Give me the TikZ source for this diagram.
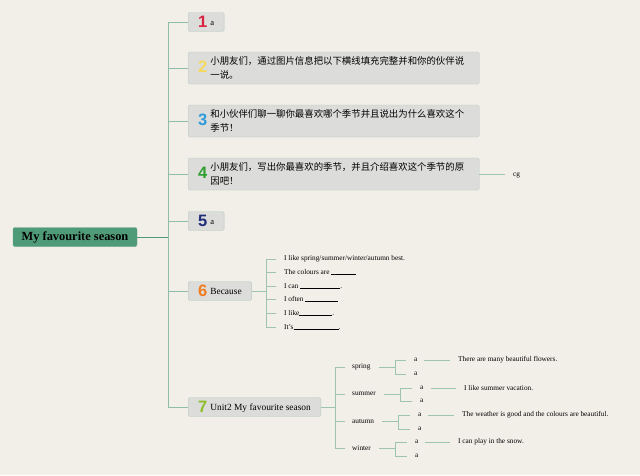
\documentclass[tikz,border=0pt]{standalone}
\usepackage{fontspec}
\setmainfont{Liberation Serif}
\newfontfamily\cjkfont{Noto Sans CJK SC}
\newfontfamily\numfont{Liberation Sans}
\definecolor{paper}{HTML}{F2EFE8}
\definecolor{rootgreen}{HTML}{4F9A77}
\definecolor{boxfill}{HTML}{DCDCDA}
\definecolor{boxline}{HTML}{B5CCBE}
\definecolor{branchgreen}{HTML}{8FBFA3}
\definecolor{twiggreen}{HTML}{9DC4AE}
\definecolor{numred}{HTML}{D9233F}
\definecolor{numyellow}{HTML}{F4DA5A}
\definecolor{numblue}{HTML}{2B9BD9}
\definecolor{numgreen}{HTML}{2E9E2E}
\definecolor{numnavy}{HTML}{1F2E7A}
\definecolor{numorange}{HTML}{F07C1E}
\definecolor{numlime}{HTML}{8DBE2A}

\newcommand{\topicnum}[2]{\raisebox{-2.5pt}{\numfont\bfseries\fontsize{16.5}{16}\selectfont\color{#1}#2}\hspace{3pt}}
\newcommand{\blank}[1]{\rule[-0.4pt]{#1}{0.4pt}}

\tikzset{
  root/.style={fill=rootgreen, draw=rootgreen!85!white, rounded corners=2pt,
    minimum width=124pt, minimum height=19pt, inner sep=2pt,
    font=\bfseries\fontsize{12.4}{14}\selectfont},
  topic/.style={draw=boxline, fill=boxfill, rounded corners=1.5pt, anchor=west,
    inner xsep=10pt, inner ysep=2pt, minimum height=19pt, font=\fontsize{9.4}{11}\selectfont},
  widetopic/.style={topic, text width=271pt, minimum height=32pt,
    font=\cjkfont\fontsize{9.4}{14}\selectfont},
  leaf/.style={anchor=west, inner sep=1pt, font=\fontsize{7.3}{9}\selectfont},
  rootlink/.style={draw=rootgreen, line width=1pt},
  branch/.style={draw=branchgreen, line width=0.9pt},
  twig/.style={draw=twiggreen, line width=0.7pt},
}

\begin{document}
\begin{tikzpicture}[x=1pt,y=-1pt]
  \useasboundingbox[fill=paper] (0,0) rectangle (640,475);

  % main topic
  \node[root] (root) at (75,237) {My favourite season};

  % numbered topics
  \node[topic] (t1) at (188,22) {\topicnum{numred}{1}{\fontsize{8.5}{9}\selectfont a}};
  \node[widetopic] (t2) at (188,68) {\topicnum{numyellow}{2}\parbox[c]{258pt}{小朋友们，通过图片信息把以下横线填充完整并和你的伙伴说\\一说。}};
  \node[widetopic] (t3) at (188,121) {\topicnum{numblue}{3}\parbox[c]{258pt}{和小伙伴们聊一聊你最喜欢哪个季节并且说出为什么喜欢这个\\季节！}};
  \node[widetopic] (t4) at (188,174) {\topicnum{numgreen}{4}\parbox[c]{258pt}{小朋友们，写出你最喜欢的季节，并且介绍喜欢这个季节的原\\因吧！}};
  \node[topic] (t5) at (188,221) {\topicnum{numnavy}{5}{\fontsize{8.5}{9}\selectfont a}};
  \node[topic] (t6) at (188,291) {\topicnum{numorange}{6}Because};
  \node[topic] (t7) at (188,407) {\topicnum{numlime}{7}Unit2 My favourite season};

  \coordinate (trunk) at (168,237);
  \draw[rootlink] (root.east) -- (trunk);
  \draw[branch] (trunk) |- (t1.west);
  \draw[branch] (trunk) |- (t2.west);
  \draw[branch] (trunk) |- (t3.west);
  \draw[branch] (trunk) |- (t4.west);
  \draw[branch] (trunk) |- (t5.west);
  \draw[branch] (trunk) |- (t6.west);
  \draw[branch] (trunk) |- (t7.west);

  % topic 4
  \node[leaf] (cg) at (512,175) {cg};
  \draw[twig, shorten >=7pt] (t4.east) -- (t4.east -| cg.west);

  % topic 6
  \coordinate (fork6) at (266,291);
  \node[leaf] (c1) at (283,259) {I like spring/summer/winter/autumn best.};
  \node[leaf] (c2) at (283,272) {The colours are \blank{25pt}};
  \node[leaf] (c3) at (283,286) {I can \blank{40pt}.};
  \node[leaf] (c4) at (283,299) {I often \blank{33pt}};
  \node[leaf] (c5) at (283,313) {I like\blank{33pt}.};
  \node[leaf] (c6) at (283,327) {It's\blank{45pt}.};
  \draw[twig] (t6.east) -- (fork6);
  \draw[twig, shorten >=7pt] (fork6) |- (c1.west);
  \draw[twig, shorten >=7pt] (fork6) |- (c2.west);
  \draw[twig, shorten >=7pt] (fork6) |- (c3.west);
  \draw[twig, shorten >=7pt] (fork6) |- (c4.west);
  \draw[twig, shorten >=7pt] (fork6) |- (c5.west);
  \draw[twig, shorten >=7pt] (fork6) |- (c6.west);

  % topic 7
  \coordinate (fork7) at (335,407);
  \node[leaf] (spring) at (351,367) {spring};
  \node[leaf] (summer) at (351,394) {summer};
  \node[leaf] (autumn) at (351,421) {autumn};
  \node[leaf] (winter) at (351,448) {winter};
  \draw[twig] (t7.east) -- (fork7);
  \draw[twig, shorten >=6pt] (fork7) |- (spring.west);
  \draw[twig, shorten >=6pt] (fork7) |- (summer.west);
  \draw[twig, shorten >=6pt] (fork7) |- (autumn.west);
  \draw[twig, shorten >=6pt] (fork7) |- (winter.west);

  % spring
  \coordinate (springfork) at (395,367);
  \node[leaf] (springa) at (413,360) {a};
  \node[leaf] (springb) at (413,374) {a};
  \node[leaf] (springnote) at (457,360) {There are many beautiful flowers.};
  \draw[twig, shorten <=7pt] (spring.east) -- (springfork);
  \draw[twig, shorten >=7pt] (springfork) |- (springa.west);
  \draw[twig, shorten >=7pt] (springfork) |- (springb.west);
  \draw[twig, shorten <=5pt, shorten >=7pt] (springa.east) -- (springnote.west);

  % summer
  \coordinate (summerfork) at (400,394);
  \node[leaf] (summera) at (419,388) {a};
  \node[leaf] (summerb) at (419,401) {a};
  \node[leaf] (summernote) at (463,388) {I like summer vacation.};
  \draw[twig, shorten <=7pt] (summer.east) -- (summerfork);
  \draw[twig, shorten >=7pt] (summerfork) |- (summera.west);
  \draw[twig, shorten >=7pt] (summerfork) |- (summerb.west);
  \draw[twig, shorten <=6pt, shorten >=7pt] (summera.east) -- (summernote.west);

  % autumn
  \coordinate (autumnfork) at (398,421);
  \node[leaf] (autumna) at (417,415) {a};
  \node[leaf] (autumnb) at (417,429) {a};
  \node[leaf] (autumnnote) at (461,415) {The weather is good and the colours are beautiful.};
  \draw[twig, shorten <=7pt] (autumn.east) -- (autumnfork);
  \draw[twig, shorten >=7pt] (autumnfork) |- (autumna.west);
  \draw[twig, shorten >=7pt] (autumnfork) |- (autumnb.west);
  \draw[twig, shorten <=5pt, shorten >=7pt] (autumna.east) -- (autumnnote.west);

  % winter
  \coordinate (winterfork) at (395,448);
  \node[leaf] (wintera) at (414,442) {a};
  \node[leaf] (winterb) at (414,456) {a};
  \node[leaf] (winternote) at (457,442) {I can play in the snow.};
  \draw[twig, shorten <=7pt] (winter.east) -- (winterfork);
  \draw[twig, shorten >=7pt] (winterfork) |- (wintera.west);
  \draw[twig, shorten >=7pt] (winterfork) |- (winterb.west);
  \draw[twig, shorten <=5pt, shorten >=7pt] (wintera.east) -- (winternote.west);
\end{tikzpicture}
\end{document}
